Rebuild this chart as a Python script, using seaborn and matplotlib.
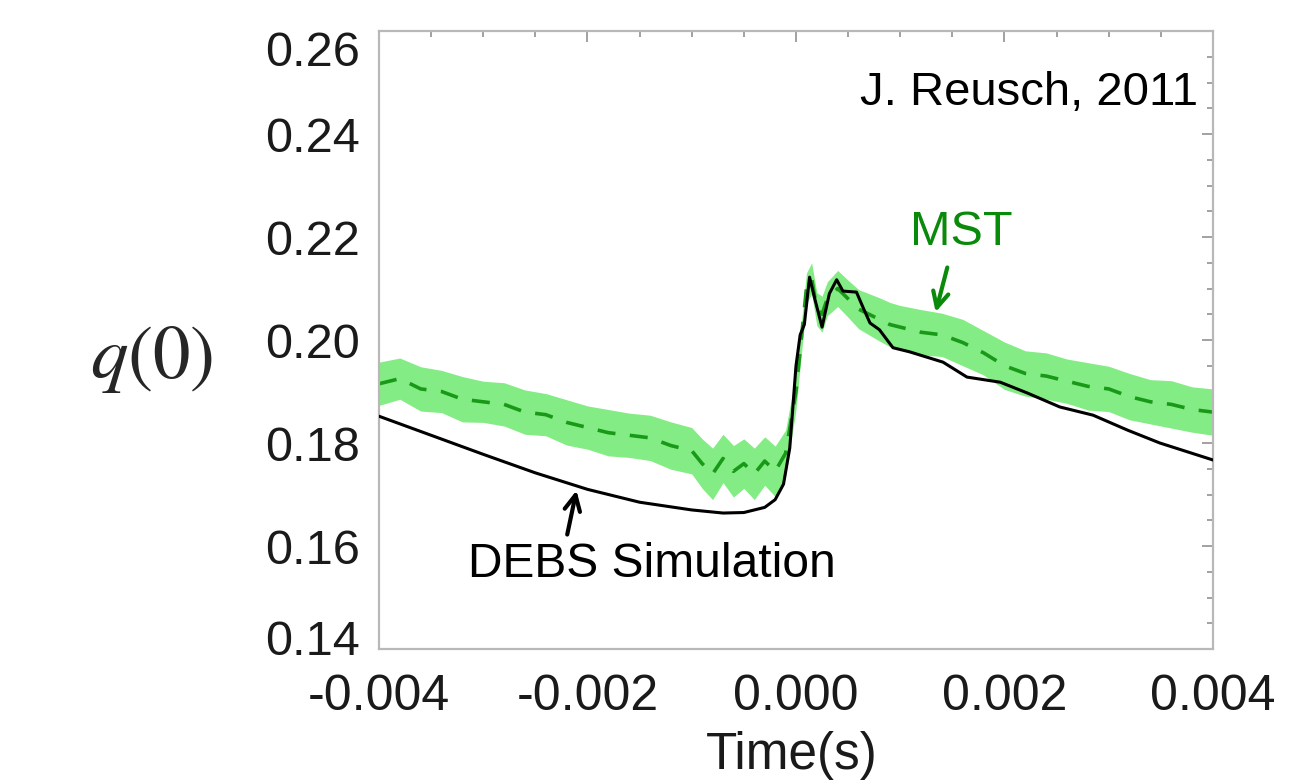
import numpy as np
import pandas as pd
import matplotlib
matplotlib.use("Agg")
import matplotlib.pyplot as plt
import matplotlib.transforms as mtransforms
from matplotlib.ticker import MultipleLocator
import seaborn as sns

# ---------------- data ----------------
debs_t = [-0.0040, -0.0035, -0.0030, -0.0025, -0.0020, -0.0015, -0.0010, -0.0007,
          -0.0005, -0.0003, -0.0002, -0.00012, -0.00006, 0.0000, 0.00004, 0.00008,
          0.00013, 0.00018, 0.00025, 0.00032, 0.00039, 0.00045, 0.00058, 0.00065,
          0.00071, 0.00080, 0.00093, 0.00109, 0.00141, 0.00164, 0.00196, 0.00222,
          0.00253, 0.00285, 0.00318, 0.00349, 0.00400]
debs_q = [0.1852, 0.1815, 0.1778, 0.1742, 0.1710, 0.1685, 0.1670, 0.1664,
          0.1665, 0.1675, 0.1690, 0.1720, 0.1790, 0.1950, 0.2010, 0.2030,
          0.2122, 0.2080, 0.2025, 0.2090, 0.2117, 0.2095, 0.2093, 0.2060,
          0.2033, 0.2020, 0.1985, 0.1977, 0.1957, 0.1928, 0.1918, 0.1897,
          0.1870, 0.1854, 0.1825, 0.1800, 0.1767]

mst_t = [-0.0040, -0.0038, -0.0036, -0.0034, -0.0032, -0.0030, -0.0028, -0.0026,
         -0.0024, -0.0022, -0.0020, -0.0018, -0.0016, -0.0014, -0.0012, -0.0010,
         -0.0009, -0.0008, -0.0007, -0.0006, -0.0005, -0.0004, -0.0003, -0.0002,
         -0.0001, 0.0000, 0.00005, 0.0001, 0.00015, 0.0002, 0.00025, 0.0003,
         0.0004, 0.0005, 0.0006, 0.0007, 0.0008, 0.0009, 0.0010,
         0.0012, 0.0014, 0.0016, 0.0018, 0.0020, 0.0022, 0.0024, 0.0026,
         0.0028, 0.0030, 0.0032, 0.0034, 0.0036, 0.0038, 0.0040]
mst_q = [0.1915, 0.1925, 0.1905, 0.1900, 0.1885, 0.1880, 0.1875, 0.1860,
         0.1855, 0.1840, 0.1830, 0.1820, 0.1815, 0.1810, 0.1795, 0.1785,
         0.1760, 0.1740, 0.1770, 0.1745, 0.1760, 0.1740, 0.1765, 0.1745,
         0.1780, 0.1900, 0.2000, 0.2100, 0.2120, 0.2060, 0.2050, 0.2080,
         0.2100, 0.2080, 0.2060, 0.2050, 0.2040, 0.2030, 0.2025,
         0.2015, 0.2010, 0.1995, 0.1975, 0.1950, 0.1935, 0.1930, 0.1920,
         0.1910, 0.1905, 0.1890, 0.1880, 0.1875, 0.1865, 0.1860]
mst_err = [0.0042, 0.0040, 0.0043, 0.0041, 0.0044, 0.0040, 0.0042, 0.0043,
           0.0041, 0.0044, 0.0042, 0.0045, 0.0043, 0.0044, 0.0046, 0.0045,
           0.0048, 0.0050, 0.0047, 0.0050, 0.0048, 0.0050, 0.0047, 0.0049,
           0.0045, 0.0035, 0.0030, 0.0030, 0.0030, 0.0032, 0.0035, 0.0033,
           0.0035, 0.0036, 0.0038, 0.0040, 0.0042, 0.0043, 0.0042,
           0.0044, 0.0042, 0.0045, 0.0043, 0.0046, 0.0044, 0.0045, 0.0043,
           0.0046, 0.0044, 0.0045, 0.0043, 0.0046, 0.0044, 0.0045]

x_ticks = [-0.004, -0.002, 0.000, 0.002, 0.004]
x_tick_labels = ["-0.004", "-0.002", "0.000", "0.002", "0.004"]
y_ticks = [0.14, 0.16, 0.18, 0.20, 0.22, 0.24, 0.26]
y_tick_labels = ["0.14", "0.16", "0.18", "0.20", "0.22", "0.24", "0.26"]

# ---------------- style ----------------
sns.set_style("white")
plt.rcParams["font.family"] = ["Liberation Sans", "DejaVu Sans"]
plt.rcParams["mathtext.fontset"] = "stix"

W, H = 1309, 782
fig = plt.figure(figsize=(W / 100, H / 100), dpi=100)
fig.patch.set_facecolor("white")
ax = fig.add_axes([379 / W, 1 - 649 / H, (1213 - 379) / W, (649 - 31) / H])

mst = pd.DataFrame({"t": mst_t, "q": mst_q, "err": mst_err})
debs = pd.DataFrame({"t": debs_t, "q": debs_q})

ax.fill_between(mst["t"], mst["q"] - mst["err"], mst["q"] + mst["err"],
                color="#84ec84", lw=0, zorder=1)
sns.lineplot(data=mst, x="t", y="q", ax=ax, color="#189a18", lw=2.6,
             linestyle=(0, (5.0, 4.0)), zorder=2)
sns.lineplot(data=debs, x="t", y="q", ax=ax, color="black", lw=2.2, zorder=3)

ax.set_xlim(-0.004, 0.004)
ax.set_ylim(0.14, 0.26)
ax.set_xticks(x_ticks)
ax.set_xticklabels(x_tick_labels)
ax.set_yticks(y_ticks)
ax.set_yticklabels(y_tick_labels)
ax.xaxis.set_minor_locator(MultipleLocator(0.0005))
ax.yaxis.set_minor_locator(MultipleLocator(0.005))
ax.tick_params(which="both", direction="in", top=True, right=True,
               color="#9a9a9a", width=1.3)
ax.tick_params(which="major", length=8)
ax.tick_params(which="minor", length=4)
ax.tick_params(axis="y", labelsize=35, pad=14, labelcolor="#1a1a1a")
ax.tick_params(axis="x", labelsize=36, pad=18, labelcolor="#1a1a1a")
for sp in ax.spines.values():
    sp.set_color("#b8b8b8")
    sp.set_linewidth(1.6)

# shift the end labels inward as in the reference
ylabs = ax.get_yticklabels()
ylabs[-1].set_transform(ylabs[-1].get_transform() +
                        mtransforms.ScaledTranslation(0, -0.17, fig.dpi_scale_trans))
ylabs[0].set_transform(ylabs[0].get_transform() +
                       mtransforms.ScaledTranslation(0, 0.12, fig.dpi_scale_trans))

ax.set_xlabel("")
ax.set_ylabel("")
fig.text(792 / W, 1 - 769 / H, "Time(s)", fontsize=37, ha="center",
         va="baseline", color="#1a1a1a")
fig.text(152 / W, 1 - 360 / H, "$q(0)$", fontsize=54, ha="center", va="center")

# annotations
ax.text(0.003856, 0.2456, "J. Reusch, 2011", fontsize=34, ha="right",
        va="baseline", color="black")
ax.text(-0.00138, 0.1540, "DEBS Simulation", fontsize=34.5, ha="center",
        va="baseline", color="black")
ax.annotate("", xy=(-0.0021, 0.1713), xytext=(-0.0022, 0.1617),
            arrowprops=dict(arrowstyle="->", color="black", lw=3,
                            mutation_scale=28))
ax.text(0.001583, 0.2184, "MST", fontsize=35, ha="center", va="baseline",
        color="#0a8a0a")
ax.annotate("", xy=(0.001333, 0.2049), xytext=(0.001458, 0.2146),
            arrowprops=dict(arrowstyle="->", color="#0a8a0a", lw=3,
                            mutation_scale=28))

fig.savefig("out.png", dpi=100, facecolor="white")
